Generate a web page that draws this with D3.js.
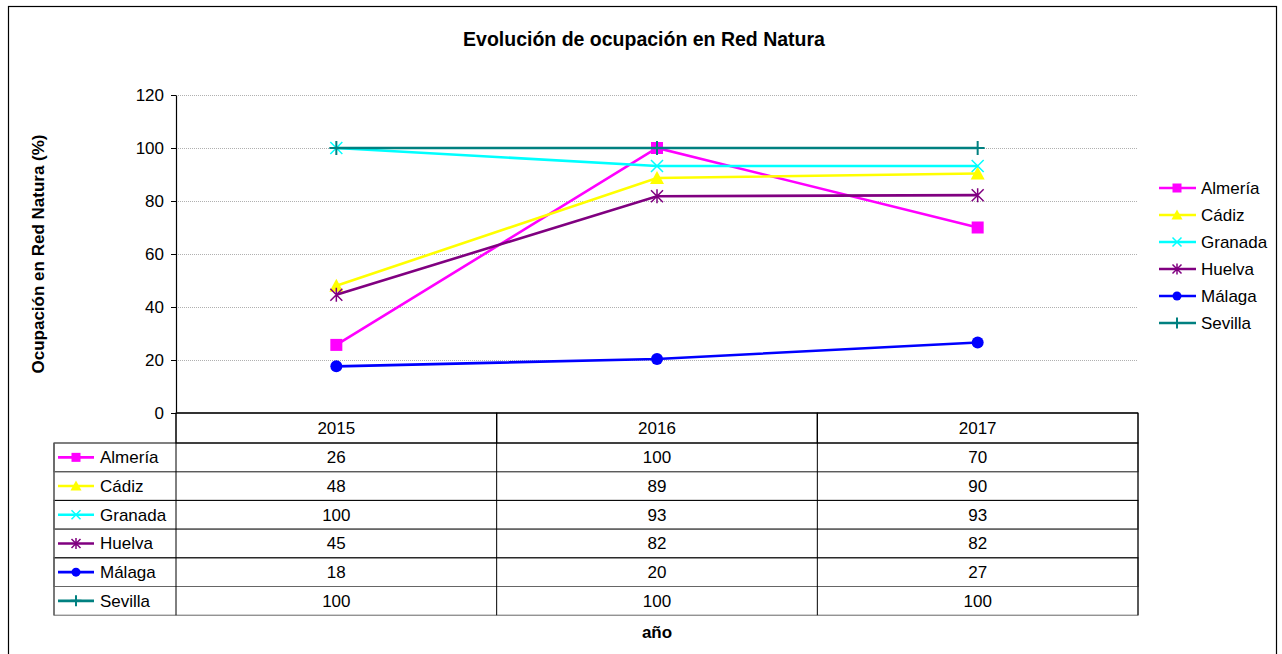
<!DOCTYPE html>
<html>
<head>
<meta charset="utf-8">
<script src="https://cdn.jsdelivr.net/npm/d3@7"></script>
<style>
  body { margin: 0; background: #fff; }
  text { font-family: "Liberation Sans", Arial, sans-serif; }
</style>
</head>
<body>
<div id="chart"></div>
<script>
// data (table shows rounded values)
const years = ["2015", "2016", "2017"];
const provinces = ["Almería", "Cádiz", "Granada", "Huelva", "Málaga", "Sevilla"];
const almeria = [25.7, 100, 70];
const cadiz = [48, 88.7, 90.4];
const granada = [100, 93.2, 93.2];
const huelva = [44.6, 81.8, 82.2];
const malaga = [17.6, 20.4, 26.6];
const sevilla = [100, 100, 100];
const yTicks = [0, 20, 40, 60, 80, 100, 120];

const colors = ["#ff00ff", "#ffff00", "#00ffff", "#800080", "#0000ff", "#008080"];
const markers = ["square", "triangle", "x", "asterisk", "circle", "plus"];
const series = [almeria, cadiz, granada, huelva, malaga, sevilla].map((v, i) => ({
  name: provinces[i], values: v, color: colors[i], marker: markers[i]
}));

let width = 1282, height = 654;
let margin = { top: 95, left: 176, right: 144, bottom: 241 };
let fs = '17px';

let svg = d3.select('#chart')
  .append('svg')
  .attr('width', width)
  .attr('height', height);

// outer frame
svg.append('rect')
  .attr('x', 8.5).attr('y', 6.5)
  .attr('width', 1268).attr('height', 660)
  .attr('fill', 'none').attr('stroke', '#000').attr('stroke-width', 1.2);

// title
svg.append('text')
  .attr('x', 644).attr('y', 46)
  .attr('text-anchor', 'middle')
  .style('font-size', '19.5px').style('font-weight', 'bold')
  .text('Evolución de ocupación en Red Natura');

let xScale = d3.scaleBand()
  .domain(years)
  .range([margin.left, width - margin.right]);

let yScale = d3.scaleLinear()
  .domain([0, 120])
  .range([height - margin.bottom, margin.top]);

// gridlines
svg.append('g')
  .selectAll('line')
  .data(yTicks.filter(d => d > 0))
  .enter()
  .append('line')
  .attr('x1', margin.left).attr('x2', width - margin.right)
  .attr('y1', d => Math.round(yScale(d)) + 0.5)
  .attr('y2', d => Math.round(yScale(d)) + 0.5)
  .attr('stroke', '#b0b0b0')
  .attr('stroke-dasharray', '1,1');

// y axis
let yAxis = svg.append('g')
  .attr('transform', `translate(${margin.left}, 0)`)
  .call(d3.axisLeft(yScale).tickValues(yTicks).tickSize(5).tickSizeOuter(0).tickPadding(7));
yAxis.select('.domain').attr('stroke', '#000').attr('stroke-width', 1.2);
yAxis.selectAll('.tick line').attr('stroke', '#000');
yAxis.selectAll('.tick text')
  .style('font-size', fs)
  .style('font-family', '"Liberation Sans", Arial, sans-serif')
  .attr('fill', '#000');

// y label
svg.append('text')
  .attr('transform', `translate(44, ${(margin.top + height - margin.bottom) / 2}) rotate(-90)`)
  .attr('text-anchor', 'middle')
  .style('font-size', fs).style('font-weight', 'bold')
  .text('Ocupación en Red Natura (%)');

// marker drawing
function drawMarker(g, type, color, size) {
  let s = size;
  if (type === 'square') {
    g.append('rect').attr('x', -s).attr('y', -s).attr('width', 2 * s).attr('height', 2 * s).attr('fill', color);
  } else if (type === 'triangle') {
    g.append('path').attr('d', `M0,${-s - 1}L${s + 1},${s}L${-s - 1},${s}Z`).attr('fill', color);
  } else if (type === 'circle') {
    g.append('circle').attr('r', s).attr('fill', color);
  } else if (type === 'x') {
    g.append('path').attr('d', `M${-s},${-s}L${s},${s}M${-s},${s}L${s},${-s}`).attr('stroke', color).attr('stroke-width', 1.5);
  } else if (type === 'asterisk') {
    g.append('path').attr('d', `M${-s},${-s}L${s},${s}M${-s},${s}L${s},${-s}M0,${-s - 1}L0,${s + 1}`).attr('stroke', color).attr('stroke-width', 1.5);
  } else if (type === 'plus') {
    g.append('path').attr('d', `M${-s - 1},0L${s + 1},0M0,${-s - 1}L0,${s + 1}`).attr('stroke', color).attr('stroke-width', 2);
  }
}

let line = d3.line()
  .x((d, i) => xScale(years[i]) + xScale.bandwidth() / 2)
  .y(d => yScale(d));

series.forEach(function(s) {
  let g = svg.append('g');
  g.append('path')
    .attr('d', line(s.values))
    .attr('fill', 'none')
    .attr('stroke', s.color)
    .attr('stroke-width', 2.6);
  s.values.forEach(function(v, i) {
    let m = g.append('g')
      .attr('transform', `translate(${xScale(years[i]) + xScale.bandwidth() / 2}, ${yScale(v)})`);
    drawMarker(m, s.marker, s.color, 6);
  });
});

// x baseline
svg.append('line')
  .attr('x1', margin.left).attr('x2', width - margin.right)
  .attr('y1', yScale(0)).attr('y2', yScale(0))
  .attr('stroke', '#333').attr('stroke-width', 1.5);

// legend on the right
let legend = svg.append('g');
series.forEach(function(s, i) {
  let y = 188 + i * 27;
  let g = legend.append('g').attr('transform', `translate(0, ${y})`);
  g.append('line').attr('x1', 1159).attr('x2', 1196).attr('y1', 0).attr('y2', 0)
    .attr('stroke', s.color).attr('stroke-width', 2.6);
  let m = g.append('g').attr('transform', 'translate(1177, 0)');
  drawMarker(m, s.marker, s.color, 4.5);
  g.append('text').attr('x', 1201).attr('y', 6)
    .style('font-size', fs).text(s.name);
});

// data table
let tableTop = yScale(0);
let headerH = 30, rowH = 28.7;
let tableLeft = 54;
let tableRight = width - margin.right;
let tbl = svg.append('g');

// header cells (only data columns)
years.forEach(function(y) {
  tbl.append('rect')
    .attr('x', xScale(y)).attr('y', tableTop)
    .attr('width', xScale.bandwidth()).attr('height', headerH)
    .attr('fill', 'none').attr('stroke', '#000');
  tbl.append('text')
    .attr('x', xScale(y) + xScale.bandwidth() / 2)
    .attr('y', tableTop + headerH / 2 + 6)
    .attr('text-anchor', 'middle')
    .style('font-size', fs)
    .text(y);
});

series.forEach(function(s, r) {
  let y0 = tableTop + headerH + r * rowH;
  tbl.append('rect')
    .attr('x', tableLeft).attr('y', y0)
    .attr('width', tableRight - tableLeft).attr('height', rowH)
    .attr('fill', 'none').attr('stroke', r % 2 ? '#666' : '#000');
  // legend key in row header
  tbl.append('line').attr('x1', 58).attr('x2', 94).attr('y1', y0 + rowH / 2).attr('y2', y0 + rowH / 2)
    .attr('stroke', s.color).attr('stroke-width', 2.6);
  let m = tbl.append('g').attr('transform', `translate(76, ${y0 + rowH / 2})`);
  drawMarker(m, s.marker, s.color, 4.5);
  tbl.append('text')
    .attr('x', 100).attr('y', y0 + rowH / 2 + 6)
    .style('font-size', fs)
    .text(s.name);
  s.values.forEach(function(v, i) {
    tbl.append('text')
      .attr('x', xScale(years[i]) + xScale.bandwidth() / 2)
      .attr('y', y0 + rowH / 2 + 6)
      .attr('text-anchor', 'middle')
      .style('font-size', fs)
      .text(d3.format('.0f')(v));
  });
});

// column dividers through the table
[margin.left].concat(years.map(y => xScale(y) + xScale.bandwidth())).forEach(function(x) {
  tbl.append('line')
    .attr('x1', x).attr('x2', x)
    .attr('y1', tableTop).attr('y2', tableTop + headerH + rowH * series.length)
    .attr('stroke', '#000');
});
tbl.append('line')
  .attr('x1', tableLeft).attr('x2', tableLeft)
  .attr('y1', tableTop + headerH).attr('y2', tableTop + headerH + rowH * series.length)
  .attr('stroke', '#666').attr('stroke-width', 1.5);

// x label
svg.append('text')
  .attr('x', (margin.left + width - margin.right) / 2)
  .attr('y', 638)
  .attr('text-anchor', 'middle')
  .style('font-size', fs).style('font-weight', 'bold')
  .text('año');
</script>
</body>
</html>
